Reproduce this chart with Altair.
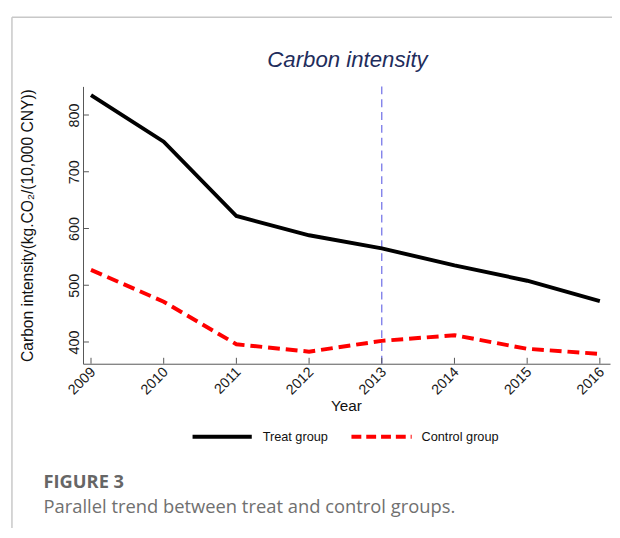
import altair as alt
import pandas as pd

# ---- data ----
years = [2009, 2010, 2011, 2012, 2013, 2014, 2015, 2016]
treat = [835, 753, 622, 588, 565, 535, 508, 472]
control = [527, 471, 396, 383, 402, 412, 388, 379]
groups = ["Treat group", "Control group"]
y_ticks = [400, 500, 600, 700, 800]
policy_year = [2013]

title_text = "Carbon intensity"
y_title = "Carbon intensity(kg.CO\u2082/(10,000 CNY))"
x_title = "Year"
fig_label = "FIGURE 3"
fig_caption = "Parallel trend between treat and control groups."

W, H = 534, 281
PAD = {"left": 76, "top": 76, "right": 2, "bottom": 163}

df = pd.DataFrame({
    "year": years * 2,
    "value": treat + control,
    "group": [groups[0]] * len(years) + [groups[1]] * len(years),
})

xs = alt.Scale(domain=[2008.89, 2016.14], nice=False, zero=False)
ys = alt.Scale(domain=[361.7, 850.4], nice=False, zero=False)

AX_COLOR = "#555555"
LBL_COLOR = "#1a1a1a"
FONT = "Liberation Sans"
LFS = 14.5

x_axis = alt.Axis(values=years, format="d", labelAngle=-45, labelAlign="right",
                  labelBaseline="middle", ticks=False, tickSize=0, labelPadding=6,
                  labelOffset=2, grid=False, title=None, domainColor=AX_COLOR,
                  labelColor=LBL_COLOR, labelFontSize=LFS, labelFont=FONT,
                  labelOverlap=False, labelFlush=False, labelBound=False)
y_axis = alt.Axis(values=y_ticks, labelAngle=-90, labelAlign="center",
                  labelBaseline="alphabetic", ticks=False, tickSize=0, labelPadding=5,
                  grid=False, title=None, domainColor=AX_COLOR, labelColor=LBL_COLOR,
                  labelFontSize=LFS, labelFont=FONT,
                  labelOverlap=False, labelFlush=False, labelBound=False)

base = alt.Chart(df)

# vertical dashed policy line
vline = alt.Chart(pd.DataFrame({"yr": policy_year})).mark_rule(
    color="#6b6be6", strokeWidth=1.2, strokeDash=[8, 5]
).encode(x=alt.X("yr:Q", scale=xs, axis=x_axis), y=alt.value(0), y2=alt.value(H))

treat_line = base.transform_filter(alt.datum.group == groups[0]).mark_line(
    color="#000000", strokeWidth=4
).encode(x=alt.X("year:Q", scale=xs, axis=x_axis),
         y=alt.Y("value:Q", scale=ys, axis=y_axis))

control_line = base.transform_filter(alt.datum.group == groups[1]).mark_line(
    color="#ff0000", strokeWidth=4, strokeDash=[12, 6]
).encode(x=alt.X("year:Q", scale=xs, axis=x_axis),
         y=alt.Y("value:Q", scale=ys, axis=y_axis))

# inward ticks
xticks = alt.Chart(pd.DataFrame({"yr": years})).mark_rule(color=AX_COLOR, strokeWidth=1).encode(
    x=alt.X("yr:Q", scale=xs, axis=x_axis), y=alt.value(H), y2=alt.value(H - 6))
yticks = alt.Chart(pd.DataFrame({"v": y_ticks})).mark_rule(color=AX_COLOR, strokeWidth=1).encode(
    y=alt.Y("v:Q", scale=ys, axis=y_axis), x=alt.value(0), x2=alt.value(6))


def txt(s, x, y, **kw):
    return alt.Chart(pd.DataFrame({"t": [s]})).mark_text(**kw).encode(
        text="t:N", x=alt.value(x), y=alt.value(y))


title = txt(title_text, 268, -20, font=FONT, fontSize=22.5, fontStyle="italic",
            color="#1f2d5c", align="center", baseline="alphabetic")
ytitle = txt(y_title, -56, 141, font=FONT, fontSize=15.8, angle=270,
             color="#111111", align="center", baseline="middle")
xtitle = txt(x_title, 267, 329, font=FONT, fontSize=15.5,
             color="#111111", align="center", baseline="alphabetic")

# legend
one = pd.DataFrame({"k": [0]})
leg_black = alt.Chart(one).mark_rule(color="#000000", strokeWidth=4).encode(
    x=alt.value(111), x2=alt.value(171), y=alt.value(355))
leg_red = alt.Chart(one).mark_rule(color="#ff0000", strokeWidth=4, strokeDash=[10, 5]).encode(
    x=alt.value(272), x2=alt.value(333), y=alt.value(355))
leg_t1 = txt(groups[0], 182, 355, font=FONT, fontSize=12.9, color="#111111",
             align="left", baseline="middle")
leg_t2 = txt(groups[1], 343, 355, font=FONT, fontSize=12.9, color="#111111",
             align="left", baseline="middle")

# caption
cap1 = txt(fig_label, -40, 407, font="Open Sans", fontSize=18.5, fontWeight="bold",
           color="#666666", align="left", baseline="alphabetic")
cap2 = txt(fig_caption, -40, 432, font="Open Sans", fontSize=18.6, color="#707070",
           align="left", baseline="alphabetic")

# frame lines
frame_top = alt.Chart(one).mark_rule(color="#c8c8c8", strokeWidth=1.5).encode(
    x=alt.value(-72), x2=alt.value(540), y=alt.value(-70))
frame_left = alt.Chart(one).mark_rule(color="#c8c8c8", strokeWidth=1.5).encode(
    x=alt.value(-72), y=alt.value(-70), y2=alt.value(450))

chart = alt.layer(
    frame_top, frame_left, vline, xticks, yticks, treat_line, control_line,
    title, ytitle, xtitle, leg_black, leg_red, leg_t1, leg_t2, cap1, cap2,
).properties(
    width=W, height=H, padding=PAD, autosize=alt.AutoSizeParams(type="none"),
    background="white",
).configure_view(stroke=None).configure_axis(
    labelFont=FONT, labelFontSize=LFS, labelColor=LBL_COLOR)

chart.save("out.html", embed_options={"renderer": "svg", "actions": False})
